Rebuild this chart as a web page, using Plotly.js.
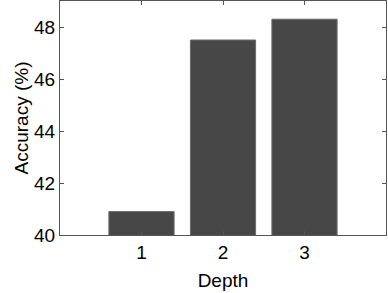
<!DOCTYPE html>
<html><head><meta charset="utf-8">
<script src="https://cdn.plot.ly/plotly-3.0.1.min.js"></script>
<style>html,body{margin:0;padding:0;background:#fff}#c{width:388px;height:293px}</style>
</head><body><div id="c"></div>
<script>
const depths = [1, 2, 3];
const accuracy = [40.9, 47.5, 48.3];
const yTicks = [40, 42, 44, 46, 48];

const font = {family: 'Liberation Sans, Arial, sans-serif', size: 19, color: '#000'};
Plotly.newPlot('c', [{
  type: 'bar', x: depths, y: accuracy, width: 0.8,
  marker: {color: '#474747', line: {color: '#6a6a6a', width: 1}},
  hoverinfo: 'skip'
}], {
  width: 388, height: 293,
  margin: {l: 60, r: 2, t: 1, b: 58},
  paper_bgcolor: '#fff', plot_bgcolor: '#fff',
  font: font,
  showlegend: false,
  xaxis: {
    range: [0, 4], tickvals: depths, ticktext: depths.map(String),
    ticks: 'inside', ticklen: 4, tickcolor: '#555', mirror: 'ticks',
    showline: true, linecolor: '#555', linewidth: 1, showgrid: false, zeroline: false,
    title: {text: 'Depth', font: font, standoff: 11}, tickfont: font
  },
  yaxis: {
    range: [40, 49], tickvals: yTicks, ticktext: yTicks.map(String),
    ticks: 'inside', ticklen: 4, tickcolor: '#555', mirror: 'ticks',
    showline: true, linecolor: '#555', linewidth: 1, showgrid: false, zeroline: false,
    title: {text: 'Accuracy (%)', font: font, standoff: 0}, tickfont: font
  }
}, {staticPlot: true});
</script></body></html>
